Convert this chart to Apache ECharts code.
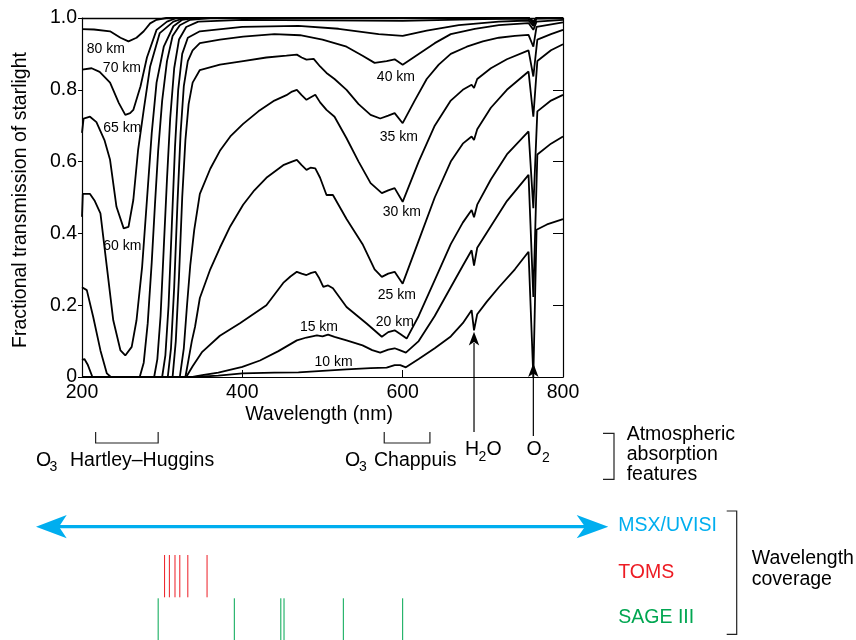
<!DOCTYPE html>
<html><head><meta charset="utf-8">
<script src="https://cdn.jsdelivr.net/npm/echarts/dist/echarts.min.js"></script>
<style>html,body{margin:0;padding:0;background:#fff}#c{width:856px;height:640px}</style>
</head><body><div id="c"></div>
<script>
// ---- data: [wavelength nm, fractional transmission] ----
const curve80 = [[200,0.969],[215,0.968],[235,0.963],[248,0.945],[258,0.935],[268,0.945],[277,0.963],[285,0.985],[293,0.995],[305,1.0],[757,1.0],[763,0.99],[767,1.0],[800,1.0]];
const curve70 = [[200,0.856],[212,0.86],[222,0.85],[235,0.82],[246,0.763],[254,0.73],[260,0.735],[264,0.744],[273,0.81],[281,0.89],[293,0.967],[306,0.99],[318,1.0],[757,1.0],[763,0.99],[767,1.0],[800,1.0]];
const curve65 = [[200,0.68],[202,0.72],[210,0.725],[218,0.71],[228,0.66],[235,0.605],[243,0.474],[252,0.414],[258,0.418],[264,0.493],[270,0.633],[277,0.744],[285,0.865],[297,0.958],[314,0.99],[328,1.0],[757,1.0],[763,0.99],[767,1.0],[800,1.0]];
const curve60 = [[200,0.446],[201,0.51],[210,0.51],[216,0.49],[223,0.456],[231,0.307],[239,0.158],[248,0.074],[254,0.06],[262,0.084],[268,0.158],[275,0.307],[281,0.493],[287,0.68],[293,0.82],[302,0.92],[314,0.977],[325,0.995],[340,1.0],[757,1.0],[763,0.99],[767,1.0],[800,1.0]];
const curve55 = [[200,0.25],[206,0.242],[214,0.167],[223,0.074],[231,0.01],[236,0],[272,0],[277,0.04],[282,0.15],[287,0.32],[291,0.48],[295,0.63],[300,0.77],[306,0.88],[313,0.95],[322,0.98],[335,0.995],[360,1.0],[757,1.0],[763,0.985],[767,1.0],[800,1.0]];
const curve50 = [[200,0.047],[203,0.05],[207,0.035],[213,0],[290,0],[294,0.05],[298,0.17],[302,0.36],[306,0.55],[310,0.72],[315,0.86],[321,0.94],[330,0.975],[345,0.99],[400,0.995],[600,0.992],[700,0.997],[757,0.998],[763,0.985],[767,1.0],[800,1.0]];
const curve45 = [[200,0],[300,0],[304,0.06],[308,0.2],[312,0.42],[316,0.64],[320,0.8],[325,0.9],[332,0.945],[347,0.963],[400,0.975],[470,0.978],[520,0.97],[570,0.955],[600,0.95],[630,0.965],[670,0.98],[720,0.99],[757,0.993],[763,0.978],[767,0.998],[800,1.0]];
const curve40 = [[200,0],[307,0],[311,0.08],[315,0.25],[319,0.48],[323,0.68],[327,0.81],[332,0.88],[338,0.91],[347,0.93],[372,0.94],[401,0.948],[440,0.955],[472,0.952],[500,0.94],[530,0.92],[550,0.895],[565,0.875],[580,0.88],[590,0.885],[600,0.87],[620,0.9],[640,0.93],[660,0.955],[690,0.97],[720,0.98],[757,0.986],[763,0.967],[767,0.99],[800,0.995]];
const curve35 = [[200,0],[313,0],[317,0.1],[321,0.28],[325,0.5],[329,0.66],[333,0.76],[338,0.82],[347,0.855],[372,0.87],[401,0.88],[430,0.89],[455,0.895],[468,0.898],[474,0.89],[480,0.884],[489,0.886],[497,0.865],[505,0.847],[515,0.83],[530,0.8],[545,0.76],[560,0.73],[572,0.72],[582,0.728],[590,0.735],[600,0.707],[615,0.77],[630,0.83],[645,0.87],[660,0.9],[680,0.92],[700,0.935],[720,0.945],[740,0.95],[757,0.953],[763,0.92],[767,0.975],[800,0.988]];
const curve30 = [[200,0],[322,0],[327,0.08],[331,0.2],[335,0.31],[340,0.41],[347,0.51],[360,0.58],[372,0.63],[385,0.67],[401,0.705],[420,0.74],[440,0.77],[455,0.785],[462,0.795],[468,0.8],[474,0.785],[480,0.772],[486,0.78],[491,0.786],[497,0.765],[505,0.744],[515,0.725],[530,0.665],[545,0.6],[560,0.54],[574,0.512],[582,0.52],[590,0.526],[600,0.488],[620,0.6],[640,0.7],[660,0.77],[675,0.8],[686,0.814],[689,0.805],[693,0.83],[710,0.86],[730,0.885],[757,0.91],[763,0.837],[768,0.94],[785,0.955],[800,0.967]];
const curve25 = [[200,0],[329,0],[333,0.05],[337,0.1],[341,0.14],[347,0.22],[360,0.3],[372,0.36],[385,0.42],[401,0.48],[415,0.52],[430,0.555],[451,0.59],[462,0.6],[468,0.605],[474,0.59],[480,0.577],[485,0.583],[491,0.581],[497,0.555],[505,0.507],[513,0.507],[530,0.44],[550,0.37],[565,0.3],[574,0.279],[582,0.288],[590,0.293],[600,0.26],[620,0.38],[640,0.5],[660,0.6],[675,0.65],[686,0.67],[689,0.66],[693,0.69],[710,0.75],[730,0.8],[757,0.851],[763,0.725],[768,0.88],[785,0.91],[800,0.927]];
const curve20 = [[200,0],[330,0],[338,0.03],[350,0.07],[372,0.115],[397,0.15],[430,0.2],[451,0.262],[460,0.28],[468,0.293],[474,0.288],[480,0.284],[486,0.29],[491,0.293],[496,0.275],[501,0.251],[507,0.255],[513,0.247],[530,0.195],[555,0.149],[574,0.112],[582,0.125],[590,0.13],[597,0.12],[605,0.107],[620,0.17],[640,0.27],[660,0.37],[675,0.43],[686,0.465],[689,0.445],[693,0.48],[710,0.55],[730,0.62],[757,0.684],[763,0.47],[768,0.74],[785,0.77],[800,0.786]];
const curve15 = [[200,0],[338,0],[350,0.005],[370,0.012],[400,0.028],[422,0.046],[445,0.072],[468,0.102],[480,0.11],[493,0.116],[500,0.113],[507,0.118],[515,0.112],[530,0.102],[550,0.088],[562,0.075],[572,0.068],[582,0.076],[590,0.08],[597,0.074],[604,0.068],[620,0.1],[640,0.17],[660,0.25],[675,0.31],[686,0.353],[689,0.31],[693,0.36],[710,0.42],[730,0.49],[757,0.563],[763,0.223],[768,0.62],[785,0.65],[800,0.67]];
const curve10 = [[200,0],[340,0],[370,0.004],[400,0.01],[440,0.012],[470,0.013],[500,0.017],[530,0.021],[560,0.025],[580,0.026],[590,0.033],[597,0.033],[604,0.027],[620,0.05],[640,0.08],[660,0.113],[675,0.15],[686,0.186],[689,0.13],[693,0.175],[705,0.21],[720,0.25],[740,0.3],[757,0.349],[763,0],[767,0.41],[780,0.425],[800,0.44]];

const altitudeCurves = [
  ['10 km', curve10], ['15 km', curve15], ['20 km', curve20], ['25 km', curve25],
  ['30 km', curve30], ['35 km', curve35], ['40 km', curve40], ['45 km', curve45],
  ['50 km', curve50], ['55 km', curve55], ['60 km', curve60], ['65 km', curve65],
  ['70 km', curve70], ['80 km', curve80]
];
// curve label anchors [text, wavelength, transmission]
const curveLabels = [
  ['80 km', 229.6, 0.912], ['70 km', 249.8, 0.861], ['65 km', 250.2, 0.694], ['60 km', 250.2, 0.365],
  ['40 km', 591.6, 0.836], ['35 km', 595.3, 0.669], ['30 km', 599.0, 0.459], ['25 km', 592.8, 0.228],
  ['20 km', 590.3, 0.153], ['15 km', 495.6, 0.139], ['10 km', 513.7, 0.041]
];
const xTicks = [200, 400, 600, 800];
const yTicks = [0, 0.2, 0.4, 0.6, 0.8, 1.0];
const hartleyHugginsBand = [217, 295];
const chappuisBand = [577, 634];
const h2oLine = 689;
const o2Line = 763;
const tomsWavelengths = [303, 309, 316, 322, 332, 356];
const sageWavelengths = [295, 390, 448, 452, 526, 600];

const F = '"Liberation Sans", Arial, Helvetica, sans-serif';
const chart = echarts.init(document.getElementById('c'), null, {renderer: 'canvas'});

const series = altitudeCurves.map(([name, data]) => ({
  type: 'line', name, data, symbol: 'none', showSymbol: false, silent: true,
  lineStyle: {color: '#000', width: 1.8}, z: 3, clip: true
}));

chart.setOption({
  animation: false,
  backgroundColor: '#fff',
  grid: {left: 82, top: 18, width: 481, height: 359, containLabel: false},
  xAxis: [
    {type: 'value', min: xTicks[0], max: xTicks[xTicks.length - 1], interval: 200, position: 'bottom',
     axisLine: {onZero: false, lineStyle: {color: '#000', width: 1.2}},
     axisTick: {inside: true, length: 7, lineStyle: {color: '#000', width: 1}},
     axisLabel: {color: '#000', fontSize: 19.5, fontFamily: F, margin: 6},
     splitLine: {show: false}},
    {type: 'value', min: 200, max: 800, position: 'top',
     axisLine: {onZero: false, lineStyle: {color: '#000', width: 1.4}},
     axisTick: {show: false}, axisLabel: {show: false}, splitLine: {show: false}}
  ],
  yAxis: [
    {type: 'value', min: yTicks[0], max: yTicks[yTicks.length - 1], interval: 0.2, position: 'left',
     axisLine: {show: true, onZero: false, lineStyle: {color: '#000', width: 1.2}},
     axisTick: {show: true, inside: false, length: 4, lineStyle: {color: '#000'}},
     axisLabel: {color: '#000', fontSize: 19.5, fontFamily: F, margin: 5,
       formatter: v => (v === 0 ? '0' : v.toFixed(1))},
     splitLine: {show: false}},
    {type: 'value', min: 0, max: 1, interval: 0.2, position: 'right',
     axisLine: {show: true, onZero: false, lineStyle: {color: '#000', width: 1.2}},
     axisTick: {show: true, inside: true, length: 10, lineStyle: {color: '#000'}},
     axisLabel: {show: false}, splitLine: {show: false}}
  ],
  series
});

function px(w) { return chart.convertToPixel({xAxisIndex: 0}, w); }
function txt(text, x, y, size, color, align, extra) {
  return Object.assign({type: 'text', x, y, silent: true, z: 10,
    style: {text, font: size + 'px ' + F, fill: color || '#000',
      align: align || 'left', textAlign: align || 'left',
      verticalAlign: 'middle', textVerticalAlign: 'middle'}}, extra || {});
}
function poly(points, color, width) {
  return {type: 'polyline', silent: true, z: 10, shape: {points},
    style: {stroke: color || '#222', lineWidth: width || 1.2, fill: null}};
}
function line(x1, y1, x2, y2, color, width) {
  return {type: 'line', silent: true, z: 10, shape: {x1, y1, x2, y2},
    style: {stroke: color, lineWidth: width}};
}
function polygon(points, color) {
  return {type: 'polygon', silent: true, z: 11, shape: {points}, style: {fill: color, stroke: null}};
}

const G = [];
// y axis title
G.push(txt('Fractional transmission of starlight', 21, 200, 19.5, '#000', 'center', {rotation: Math.PI / 2}));
// x axis title
G.push(txt('Wavelength (nm)', 319, 415, 19.5, '#000', 'center'));
// curve labels
curveLabels.forEach(([t, w, v]) => {
  const p = chart.convertToPixel({gridIndex: 0}, [w, v]);
  G.push(txt(t, p[0], p[1], 14, '#000', 'center'));
});
// absorption band brackets
[hartleyHugginsBand, chappuisBand].forEach(([a, b]) => {
  const x1 = px(a), x2 = px(b);
  G.push(poly([[x1, 432], [x1, 443], [x2, 443], [x2, 432]], '#222', 1.2));
});
G.push(txt('O', 36, 460.5, 19.5));
G.push(txt('3', 49.5, 467.5, 14));
G.push(txt('Hartley\u2013Huggins', 70, 460.5, 19.5));
G.push(txt('O', 345, 460.5, 19.5));
G.push(txt('3', 359, 467.5, 14));
G.push(txt('Chappuis', 374, 460.5, 19.5));
// H2O and O2 arrows
const xh = px(h2oLine), xo = px(o2Line);
G.push(line(xh, 343, xh, 432, '#000', 1.2));
G.push(polygon([[xh, 331.7], [xh - 5.2, 345.5], [xh, 342], [xh + 5.2, 345.5]], '#000'));
G.push(line(xo, 374, xo, 436, '#000', 1.2));
G.push(polygon([[xo, 363.3], [xo - 5.2, 377], [xo, 373.5], [xo + 5.2, 377]], '#000'));
G.push(txt('H', 465, 450, 19.5));
G.push(txt('2', 478.5, 457, 14));
G.push(txt('O', 486.5, 450, 19.5));
G.push(txt('O', 526.5, 450, 19.5));
G.push(txt('2', 542, 458, 14));
// atmospheric features bracket
G.push(poly([[603, 433.3], [614, 433.3], [614, 479.3], [603, 479.3]], '#222', 1.2));
G.push(txt('Atmospheric', 626.7, 435, 19.5));
G.push(txt('absorption', 626.7, 455, 19.5));
G.push(txt('features', 626.7, 475, 19.5));
// MSX/UVISI double arrow
const cyan = '#00AEEF', red = '#ED1C24', green = '#00A651';
G.push(line(58, 526.7, 586, 526.7, cyan, 3.3));
G.push(polygon([[36, 526.7], [66.7, 515], [59, 526.7], [66.7, 538.3]], cyan));
G.push(polygon([[608.3, 526.7], [576.7, 515], [585, 526.7], [576.7, 538.3]], cyan));
G.push(txt('MSX/UVISI', 618.3, 526, 19.5, cyan));
G.push(txt('TOMS', 618.3, 573, 19.5, red));
G.push(txt('SAGE III', 618.3, 617.5, 19.5, green));
// TOMS / SAGE wavelengths
tomsWavelengths.forEach(w => { const x = px(w); G.push(line(x, 555, x, 597.3, red, 1)); });
sageWavelengths.forEach(w => { const x = px(w); G.push(line(x, 598.3, x, 640, green, 1)); });
// coverage bracket
G.push(poly([[726.7, 511], [736.7, 511], [736.7, 634.3], [726.7, 634.3]], '#222', 1.2));
G.push(txt('Wavelength', 751.7, 559, 19.5));
G.push(txt('coverage', 751.7, 580, 19.5));

chart.setOption({graphic: {elements: G}});
</script></body></html>
